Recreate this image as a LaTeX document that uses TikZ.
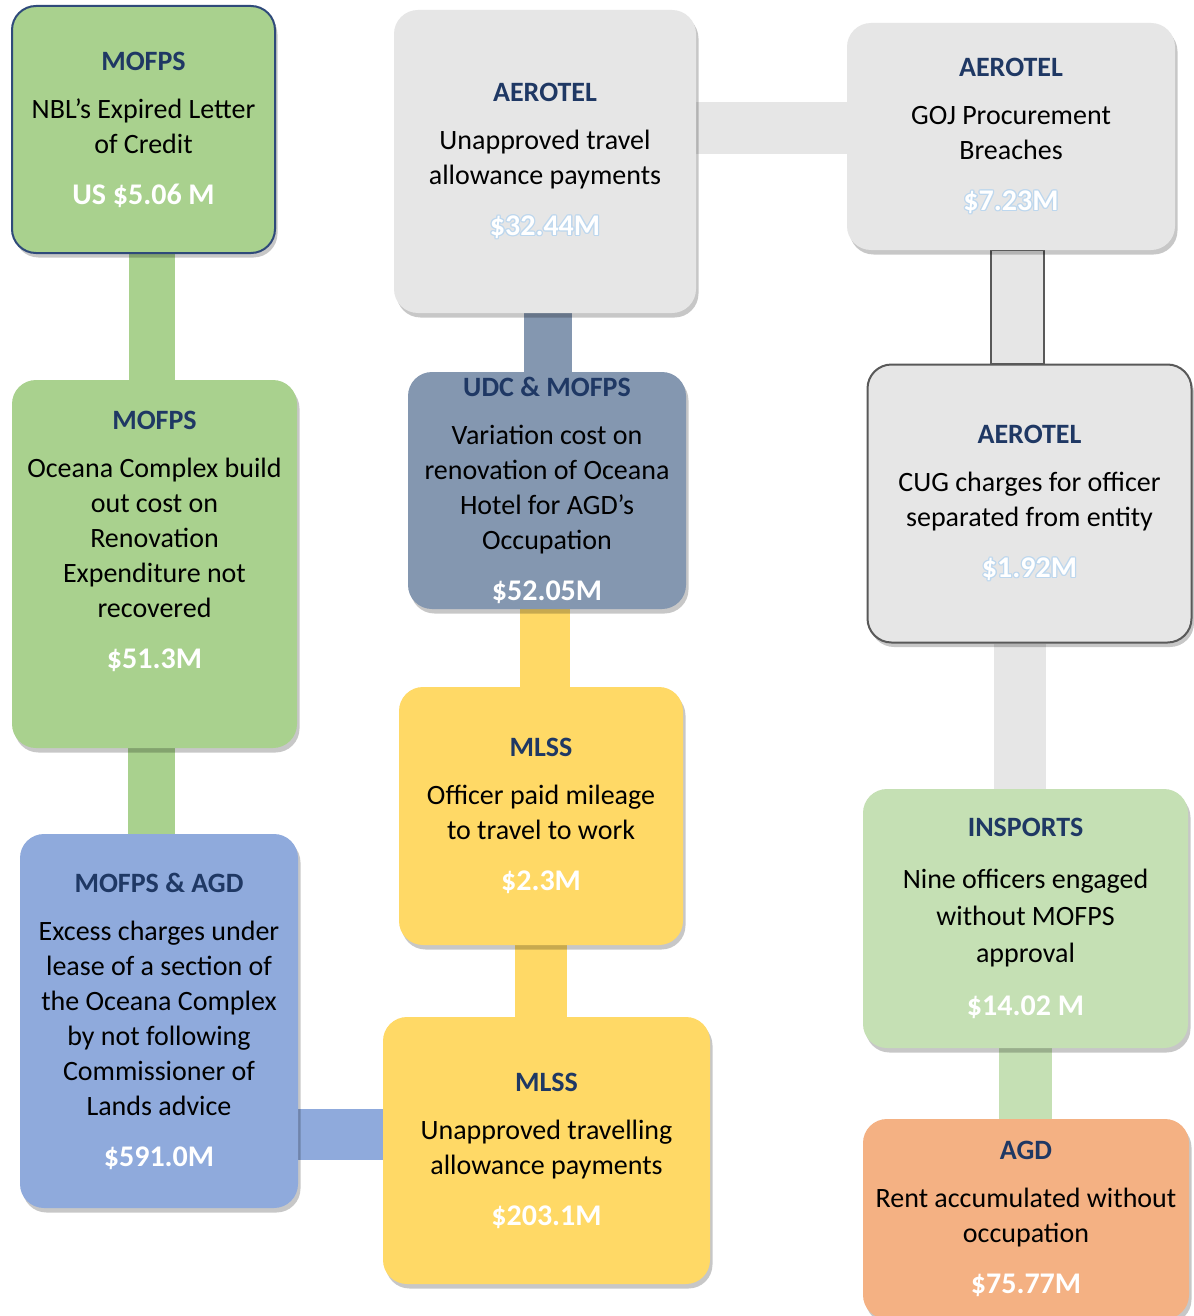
\documentclass[tikz,border=0pt]{standalone}
\usepackage{fontspec}
\setmainfont{Carlito}
\usetikzlibrary{shadows}
\pgfdeclarelayer{bg}
\pgfsetlayers{bg,main}
\definecolor{cgreen}{HTML}{A9D18E}
\definecolor{cgray}{HTML}{E6E6E6}
\definecolor{cslate}{HTML}{8497B0}
\definecolor{cyellow}{HTML}{FFD966}
\definecolor{cblue}{HTML}{8FAADC}
\definecolor{clgreen}{HTML}{C5E0B4}
\definecolor{corange}{HTML}{F4B183}
\definecolor{ctitle}{HTML}{1F3864}
\definecolor{cborder}{HTML}{2F4A7A}
\definecolor{cdgray}{HTML}{595959}
\definecolor{coutl}{HTML}{BDD7EE}
\newcommand\ttl[1]{{\bfseries\color{ctitle}#1}}
\newcommand\val[1]{{\fontsize{30}{35}\selectfont\bfseries\color{white}#1}}
\newcommand\outval[1]{{\fontsize{30}{35}\selectfont\bfseries\leavevmode
 \rlap{\kern-1.3pt\textcolor{coutl}{#1}}%
 \rlap{\kern1.3pt\textcolor{coutl}{#1}}%
 \rlap{\raisebox{1.3pt}{\textcolor{coutl}{#1}}}%
 \rlap{\raisebox{-1.3pt}{\textcolor{coutl}{#1}}}%
 \rlap{\kern-0.9pt\raisebox{0.9pt}{\textcolor{coutl}{#1}}}%
 \rlap{\kern0.9pt\raisebox{-0.9pt}{\textcolor{coutl}{#1}}}%
 \rlap{\kern0.9pt\raisebox{0.9pt}{\textcolor{coutl}{#1}}}%
 \rlap{\kern-0.9pt\raisebox{-0.9pt}{\textcolor{coutl}{#1}}}%
 \textcolor{white}{#1}}}
\tikzset{
 box/.style={rectangle, rounded corners=24pt, inner sep=0pt, align=center,
   font=\fontsize{28}{35}\selectfont, text=black,
   drop shadow={shadow xshift=2.5pt, shadow yshift=-4.5pt, opacity=0.22, fill=black}},
 bar/.style={fill=#1, draw=none},
}
\begin{document}
\begin{tikzpicture}[x=1pt,y=-1pt]
\begin{pgfonlayer}{bg}
\path[fill=white] (0,0) rectangle (1193,1316);
\end{pgfonlayer}
\useasboundingbox (0,0) rectangle (1193,1316);

\node[box, fill=cgreen, draw=cborder, line width=2pt, minimum width=263, minimum height=247] (A) at (143.5,129.5)
 {\ttl{MOFPS}\\[13pt]NBL's Expired Letter\\of Credit\\[16pt]\val{US \$5.06 M}};
\node[box, fill=cgray, minimum width=302, minimum height=303] (B) at (545,161.5)
 {\ttl{AEROTEL}\\[13pt]Unapproved travel\\allowance payments\\[16pt]\outval{\$32.44M}};
\node[box, fill=cgray, minimum width=328, minimum height=227] (C) at (1011,136.5)
 {\ttl{AEROTEL}\\[13pt]GOJ Procurement\\Breaches\\[16pt]\outval{\$7.23M}};
\node[box, fill=cgreen, minimum width=285, minimum height=368] (D) at (154.5,564)
 {\ttl{MOFPS}\\[13pt]Oceana Complex build\\out cost on\\Renovation\\Expenditure not\\recovered\\[16pt]\val{\$51.3M}\rule[-48pt]{0pt}{48pt}};
\node[box, fill=cslate, minimum width=278, minimum height=237] (E) at (547,490.5)
 {\ttl{UDC \& MOFPS}\\[13pt]Variation cost on\\renovation of Oceana\\Hotel for AGD's\\Occupation\\[16pt]\val{\$52.05M}};
\node[box, fill=cgray, draw=cdgray, line width=2pt, minimum width=324, minimum height=278] (F) at (1029.5,503.5)
 {\ttl{AEROTEL}\\[13pt]CUG charges for officer\\separated from entity\\[16pt]\outval{\$1.92M}};
\node[box, fill=cyellow, minimum width=284, minimum height=258] (G) at (541,816)
 {\ttl{MLSS}\\[13pt]Officer paid mileage\\to travel to work\\[16pt]\val{\$2.3M}};
\node[box, fill=cblue, minimum width=278, minimum height=374] (H) at (159,1021)
 {\ttl{MOFPS \& AGD}\\[13pt]Excess charges under\\lease of a section of\\the Oceana Complex\\by not following\\Commissioner of\\Lands advice\\[16pt]\val{\$591.0M}};
\node[box, fill=cyellow, minimum width=327, minimum height=267] (I) at (546.5,1150.5)
 {\ttl{MLSS}\\[13pt]Unapproved travelling\\allowance payments\\[16pt]\val{\$203.1M}};
\node[box, fill=clgreen, minimum width=325, minimum height=259] (J) at (1025.5,918.5)
 {\ttl{INSPORTS}\\[17pt]Nine officers engaged\\[2pt]without MOFPS\\[2pt]approval\\[18pt]\val{\$14.02 M}};
\node[box, fill=corange, minimum width=326, minimum height=200] (K) at (1026,1219)
 {\ttl{AGD}\\[13pt]Rent accumulated without\\occupation\\[16pt]\val{\$75.77M}};

\begin{pgfonlayer}{bg}
\fill[bar=cgreen] (A.south -| 129,0) rectangle (D.north -| 175,0);
\fill[bar=cgreen] (D.south -| 128,0) rectangle (H.north -| 175,0);
\fill[bar=cblue] (H.east |- 0,1109) rectangle (I.west |- 0,1160);
\fill[bar=cyellow] (I.north -| 515,0) rectangle (G.south -| 567,0);
\fill[bar=cyellow] (G.north -| 520,0) rectangle (E.south -| 570,0);
\fill[bar=cslate] (E.north -| 524,0) rectangle (B.south -| 572,0);
\fill[bar=cgray] (B.east |- 0,102) rectangle (C.west |- 0,154);
\draw[fill=cgray, draw=cdgray, line width=1.5pt] (C.south -| 991,0) rectangle (F.north -| 1044,0);
\fill[bar=cgray] (F.south -| 994,0) rectangle (J.north -| 1046,0);
\fill[bar=clgreen] (J.south -| 999,0) rectangle (K.north -| 1052,0);
\end{pgfonlayer}
\end{tikzpicture}
\end{document}
